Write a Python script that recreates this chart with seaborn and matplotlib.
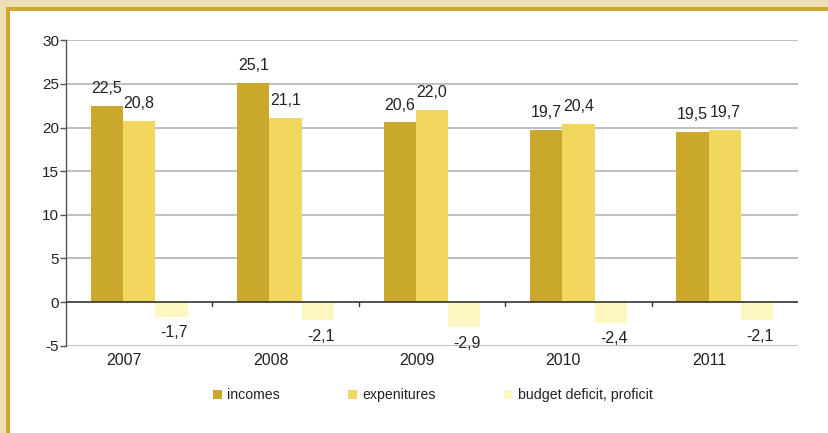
import matplotlib
matplotlib.use("Agg")
import matplotlib.pyplot as plt
import matplotlib.patches as mpatches
import matplotlib.transforms as mtrans
import seaborn as sns
import pandas as pd
import numpy as np

years = ["2007", "2008", "2009", "2010", "2011"]
incomes = [22.5, 25.1, 20.6, 19.7, 19.5]
expenditures = [20.8, 21.1, 22.0, 20.4, 19.7]
deficit = [-1.7, -2.1, -2.9, -2.4, -2.1]
series_names = ["incomes", "expenitures", "budget deficit, proficit"]
colors = ["#c9a82c", "#f2d75e", "#fdf6c0"]

df = pd.DataFrame({
    "year": years * 3,
    "value": incomes + expenditures + deficit,
    "series": [series_names[0]] * 5 + [series_names[1]] * 5 + [series_names[2]] * 5,
})

sns.set_style("white")
plt.rcParams["font.family"] = ["Liberation Sans", "DejaVu Sans"]

W, H = 829, 433
fig = plt.figure(figsize=(W / 100, H / 100), dpi=100)
fig.patch.set_facecolor("#ede0b6")
# frame: gold stripe and white panel
fig.add_artist(mpatches.Rectangle((6 / W, 0), 1, 1 - 7 / H, transform=fig.transFigure,
                                  facecolor="#cfa82e", edgecolor="none", zorder=-10))
fig.add_artist(mpatches.Rectangle((10 / W, 0), 1, 1 - 11 / H, transform=fig.transFigure,
                                  facecolor="white", edgecolor="none", zorder=-9))

ax = fig.add_axes([66 / W, 1 - 345.7 / H, (798 - 66) / W, (345.7 - 40.3) / H])
ax.set_facecolor("none")

sns.barplot(data=df, x="year", y="value", hue="series", palette=colors,
            width=0.66, ax=ax, legend=False, saturation=1, edgecolor="none")

ax.set_ylim(-5, 30)
ax.set_xlim(-0.5, 4.5)
ax.set_yticks(np.arange(-5, 31, 5))
ax.set_yticklabels([str(v) for v in range(-5, 31, 5)])
for v in range(-5, 31, 5):
    if v != 0:
        ax.axhline(v, color="#b4b4b4", lw=1.2, zorder=0)
ax.axhline(0, color="#333333", lw=1.2, zorder=3)

for s in ["top", "right", "bottom"]:
    ax.spines[s].set_visible(False)
ax.spines["left"].set_color("#555555")
ax.spines["left"].set_linewidth(1.0)

ax.tick_params(axis="y", left=True, length=4, width=1, color="#555555",
               labelsize=11, labelcolor="#222222", pad=1)
ax.set_xticks(range(5))
ax.set_xticklabels(years)
ax.tick_params(axis="x", bottom=False, labelsize=11.5, labelcolor="#222222", pad=2)
offset = mtrans.ScaledTranslation(-15 / 100, 0, fig.dpi_scale_trans)
for lbl in ax.get_xticklabels():
    lbl.set_transform(lbl.get_transform() + offset)

# boundary tick marks on zero line
for b in np.arange(0.5, 4.5, 1):
    ax.plot([b, b], [0, -0.5], color="#333333", lw=1, zorder=3)

ax.set_xlabel("")
ax.set_ylabel("")

for cont in ax.containers:
    for bar in cont:
        h = bar.get_height()
        xc = bar.get_x() + bar.get_width() / 2
        txt = f"{h:.1f}".replace(".", ",")
        if h >= 0:
            ax.annotate(txt, (xc, h), xytext=(0, 7), textcoords="offset points",
                        ha="center", va="bottom", fontsize=11.5, color="#222222")
        else:
            ax.annotate(txt, (xc + 0.02, h), xytext=(0, -6), textcoords="offset points",
                        ha="center", va="top", fontsize=11.5, color="#222222")

handles = [mpatches.Patch(facecolor=c, edgecolor="none") for c in colors]
fig.legend(handles, series_names, loc="center", bbox_to_anchor=(433 / W, 1 - 395 / H),
           ncol=3, frameon=False, fontsize=10.2, handlelength=0.6, handleheight=0.6,
           handletextpad=0.4, columnspacing=4.8, labelcolor="#222222")

fig.savefig("out.png", dpi=100)
